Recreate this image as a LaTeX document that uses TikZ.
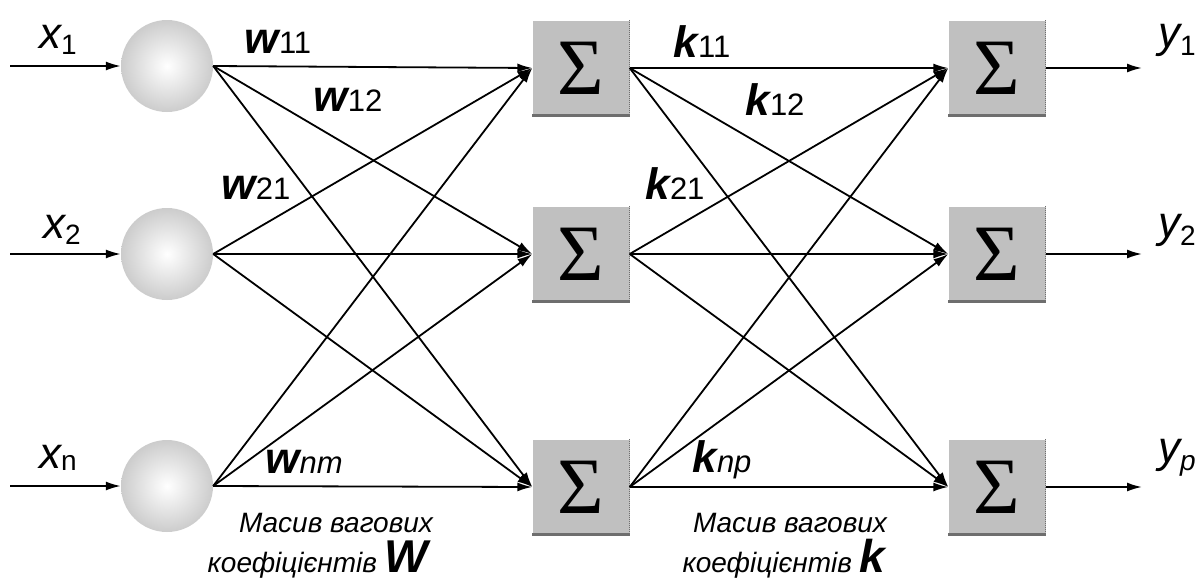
\documentclass[tikz,border=0pt]{standalone}
\usepackage{fontspec}
\setmainfont{Liberation Sans}
\newfontfamily\sigmafont{Liberation Serif}
\usetikzlibrary{arrows.meta}
\definecolor{boxgray}{RGB}{192,192,192}
\definecolor{boxedge}{RGB}{110,110,110}
\tikzset{
  neuron/.style={circle, minimum size=92pt, inner sep=0pt, inner color=white, outer color=black!20},
  sumbox/.style={rectangle, minimum width=97pt, minimum height=95pt, inner sep=0pt, fill=boxgray,
    font=\sigmafont\fontsize{80}{86}\selectfont},
  conn/.style={line width=1.8pt, -{Latex[length=15pt,width=9pt]}},
  lbl/.style={font=\fontsize{44}{48}\selectfont, inner sep=0pt},
  wlbl/.style={font=\fontsize{44}{48}\selectfont, inner sep=0pt},
  captext/.style={font=\fontsize{28}{32}\itshape\selectfont, inner sep=0pt}
}
\newcommand{\wsub}[2]{{\bfseries\itshape #1}{\fontsize{31}{34}\selectfont #2}}
\begin{document}
\begin{tikzpicture}[x=1pt,y=-1pt]
\useasboundingbox (0,0) rectangle (1204,581);
% neurons
\node[neuron] (c1) at (167,66) {};
\node[neuron] (c2) at (167,254) {};
\node[neuron] (c3) at (167,486) {};
% sum boxes
\foreach \n/\x/\y in {s1/581/68, s2/581/254, s3/581/487, t1/997/68, t2/997/254, t3/997/487}{
  \node[sumbox] (\n) at (\x,\y) {Σ};
  \draw[boxedge, line width=2.5pt] (\n.south west) -- (\n.south east);
  \draw[boxedge, line width=1pt, densely dotted] (\n.north east) -- (\n.south east);
}
% inputs
\coordinate (i1) at (10,66);
\coordinate (i2) at (10,254);
\coordinate (i3) at (10,486);
\draw[conn] (i1) -- (c1.west);
\draw[conn] (i2) -- (c2.west);
\draw[conn] (i3) -- (c3.west);
% layer 1
\foreach \a in {c1,c2,c3}{
  \foreach \b in {s1,s2,s3}{
    \draw[conn] (\a.east) -- (\b.west);
  }
}
% layer 2
\foreach \a in {s1,s2,s3}{
  \foreach \b in {t1,t2,t3}{
    \draw[conn] (\a.east) -- (\b.west);
  }
}
% outputs
\coordinate (o1) at (1142,68);
\coordinate (o2) at (1142,254);
\coordinate (o3) at (1142,487);
\draw[conn] (t1.east) -- (o1);
\draw[conn] (t2.east) -- (o2);
\draw[conn] (t3.east) -- (o3);
% input/output labels
\node[lbl] (lx1) at (58,40) {\itshape x\raisebox{-6pt}{\fontsize{28}{30}\selectfont\upshape 1}};
\node[lbl] (lx2) at (62,230) {\itshape x\raisebox{-6pt}{\fontsize{28}{30}\selectfont\upshape 2}};
\node[lbl] (lx3) at (58,458) {\itshape x\raisebox{-2pt}{\fontsize{28}{30}\selectfont\upshape n}};
\node[lbl, anchor=west] (ly1) at (1158,40) {\itshape y\raisebox{-8pt}{\fontsize{28}{30}\selectfont\upshape 1}};
\node[lbl, anchor=west] (ly2) at (1158,230) {\itshape y\raisebox{-8pt}{\fontsize{28}{30}\selectfont\upshape 2}};
\node[lbl, anchor=west] (ly3) at (1158,458) {\itshape y\raisebox{-8pt}{\fontsize{28}{30}\selectfont p}};
% weight labels
\node[wlbl] (w11) at (278,42) {\wsub{w}{11}};
\node[wlbl] (w12) at (348,100) {\wsub{w}{12}};
\node[wlbl] (w21) at (256,188) {\wsub{w}{21}};
\node[wlbl] (wnm) at (304,462) {\wsub{w}{\itshape nm}};
\node[wlbl] (k11) at (702,42) {\wsub{k}{11}};
\node[wlbl] (k12) at (775,100) {\wsub{k}{12}};
\node[wlbl] (k21) at (675,184) {\wsub{k}{21}};
\node[wlbl] (knp) at (722,460) {\wsub{k}{\itshape np}};
% captions
\node[captext] (cw1) at (336,523) {Масив вагових};
\node[captext, anchor=base] (cw2) at (318,572) {коефіцієнтів {\fontsize{46}{48}\selectfont\bfseries W}};
\node[captext] (ck1) at (790,523) {Масив вагових};
\node[captext, anchor=base] (ck2) at (784,572) {коефіцієнтів {\fontsize{46}{48}\selectfont\bfseries k}};
\end{tikzpicture}
\end{document}
